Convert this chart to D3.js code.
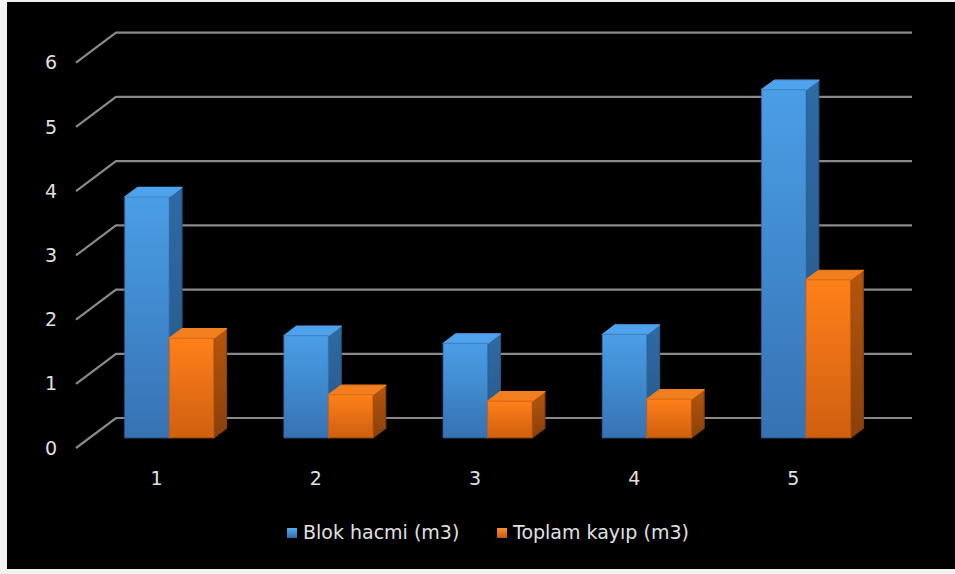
<!DOCTYPE html>
<html>
<head>
<meta charset="utf-8">
<script src="https://cdn.jsdelivr.net/npm/d3@7"></script>
<style>
  html, body { margin: 0; padding: 0; background: #f2f2f2; }
  svg { display: block; }
</style>
</head>
<body>
<div id="vis"></div>
<script>
// veriler
const categories = ["1", "2", "3", "4", "5"];
const seriesNames = ["Blok hacmi (m3)", "Toplam kayıp (m3)"];
const blokHacmi = [3.75, 1.59, 1.47, 1.61, 5.42];
const toplamKayip = [1.55, 0.67, 0.57, 0.60, 2.46];
const yTicks = [0, 1, 2, 3, 4, 5, 6];

const seriesValues = [blokHacmi, toplamKayip];
const palette = [
    { front: ["#4a9ee6", "#3672b3"], side: ["#2f6aa4", "#275787"], top: "#4fa3ec", legend: ["#5aaaf0", "#2f6aa8"] },
    { front: ["#ff801a", "#cf5f0f"], side: ["#b4560d", "#8a400a"], top: "#f27f1e", legend: ["#ff9030", "#c05a10"] }
];

const W = 955, H = 574;
const DX = 40, DY = 30;          // derinlik kayması (arka -> ön)
const dFront = 0.34, dBack = 0.66; // çubukların derinlikteki yeri

const svg = d3.select("#vis").append("svg")
    .attr("width", W)
    .attr("height", H);

// siyah zemin
svg.append("rect")
    .attr("x", 7).attr("y", 2)
    .attr("width", W - 7).attr("height", 567)
    .attr("fill", "#000");

const y = d3.scaleLinear().domain([0, 6]).range([418, 32.7]);
const x0 = d3.scaleBand().domain(categories).range([76, 872]);
const pairW = 89;
const x1 = d3.scaleBand().domain(seriesNames).range([0, pairW]);
const pairOff = (x0.bandwidth() - pairW) / 2;

function proj(xf, v, d) {
    return [xf + DX * d, y(v) + DY * (1 - d)];
}

// gradyanlar
const defs = svg.append("defs");
palette.forEach((p, i) => {
    const gf = defs.append("linearGradient").attr("id", "front" + i)
        .attr("x1", 0).attr("y1", 0).attr("x2", 0).attr("y2", 1);
    gf.append("stop").attr("offset", "0%").attr("stop-color", p.front[0]);
    gf.append("stop").attr("offset", "100%").attr("stop-color", p.front[1]);
    const gs = defs.append("linearGradient").attr("id", "side" + i)
        .attr("x1", 0).attr("y1", 0).attr("x2", 0).attr("y2", 1);
    gs.append("stop").attr("offset", "0%").attr("stop-color", p.side[0]);
    gs.append("stop").attr("offset", "100%").attr("stop-color", p.side[1]);
    const gl = defs.append("linearGradient").attr("id", "leg" + i)
        .attr("x1", 0).attr("y1", 0).attr("x2", 0).attr("y2", 1);
    gl.append("stop").attr("offset", "0%").attr("stop-color", p.legend[0]);
    gl.append("stop").attr("offset", "100%").attr("stop-color", p.legend[1]);
});

// ızgara çizgileri (arka duvar + taban çaprazları)
const grid = svg.append("g")
    .attr("stroke", "#898989")
    .attr("stroke-width", 2.2)
    .attr("fill", "none");
const backX0 = x0.range()[0] + DX, backX1 = x0.range()[1] + DX;
yTicks.forEach(t => {
    grid.append("path")
        .attr("d", `M${backX1},${y(t)}L${backX0},${y(t)}L${backX0 - DX},${y(t) + DY}`);
});

// y ekseni etiketleri
svg.append("g")
    .attr("transform", `translate(60,${DY})`)
    .call(d3.axisLeft(y).tickValues(yTicks).tickSize(0).tickPadding(3).tickFormat(d3.format("d")))
    .call(g => g.select(".domain").remove())
    .selectAll("text")
    .attr("fill", "#e0e0e0")
    .style("font-family", "DejaVu Sans")
    .style("font-size", "19px");

// x ekseni etiketleri
svg.append("g")
    .attr("transform", "translate(1,468)")
    .call(d3.axisBottom(x0).tickSize(0).tickPadding(3))
    .call(g => g.select(".domain").remove())
    .selectAll("text")
    .attr("fill", "#e0e0e0")
    .style("font-family", "DejaVu Sans")
    .style("font-size", "19px");

// 3B çubuklar
const line = pts => "M" + pts.map(p => p.join(",")).join("L") + "Z";
categories.forEach((c, ci) => {
    seriesNames.forEach((s, si) => {
        const v = seriesValues[si][ci];
        const xl = x0(c) + pairOff + x1(s);
        const xr = xl + x1.bandwidth();
        const g = svg.append("g")
            .attr("stroke-linejoin", "round")
            .attr("stroke-width", 1.2);
        g.append("path")
            .attr("d", line([proj(xr, 0, dFront), proj(xr, 0, dBack), proj(xr, v, dBack), proj(xr, v, dFront)]))
            .attr("fill", `url(#side${si})`)
            .attr("stroke", palette[si].side[1]);
        g.append("path")
            .attr("d", line([proj(xl, v, dFront), proj(xr, v, dFront), proj(xr, v, dBack), proj(xl, v, dBack)]))
            .attr("fill", palette[si].top)
            .attr("stroke", palette[si].top);
        g.append("path")
            .attr("d", line([proj(xl, 0, dFront), proj(xr, 0, dFront), proj(xr, v, dFront), proj(xl, v, dFront)]))
            .attr("fill", `url(#front${si})`)
            .attr("stroke", palette[si].front[1])
            .attr("stroke-opacity", 0.6);
    });
});

// lejant
const legendX = [287, 497];
const legend = svg.append("g");
seriesNames.forEach((s, i) => {
    legend.append("rect")
        .attr("x", legendX[i]).attr("y", 528)
        .attr("width", 10).attr("height", 10)
        .attr("fill", `url(#leg${i})`);
    legend.append("text")
        .attr("x", legendX[i] + 16).attr("y", 539)
        .attr("fill", "#e0e0e0")
        .style("font-family", "DejaVu Sans")
        .style("font-size", "19px")
        .text(s);
});
</script>
</body>
</html>
